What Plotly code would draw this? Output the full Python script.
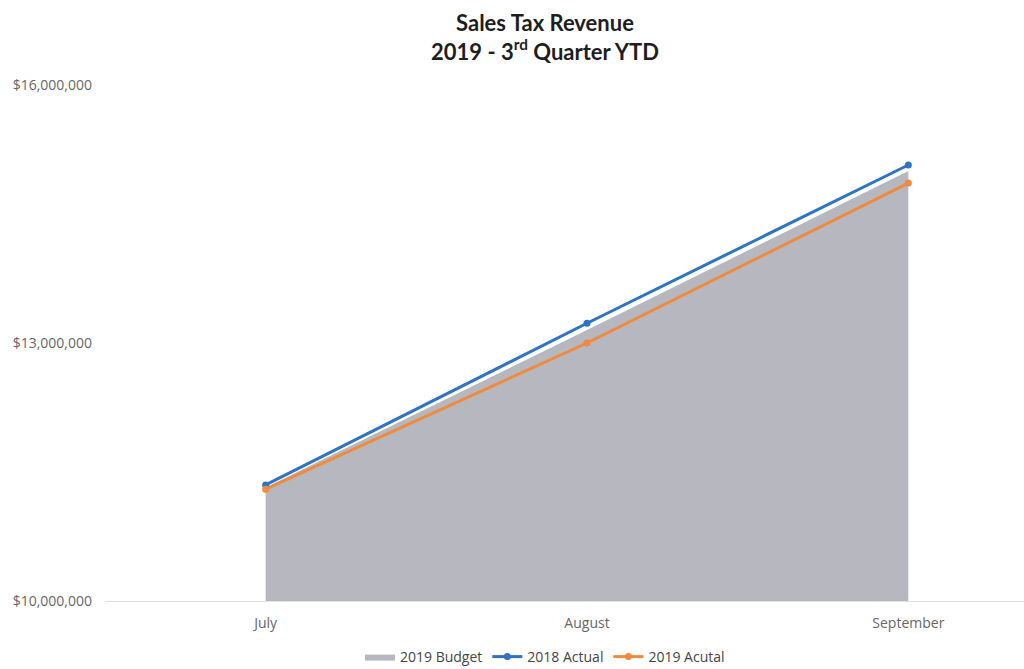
import plotly.graph_objects as go

# Year-to-date sales tax revenue by month
months = ["July", "August", "September"]
budget_2019 = [11_320_000, 13_150_000, 15_000_000]
actual_2018 = [11_350_000, 13_230_000, 15_070_000]
actual_2019 = [11_300_000, 13_000_000, 14_860_000]

y_ticks = [10_000_000, 13_000_000, 16_000_000]
y_tick_labels = ["$10,000,000", "$13,000,000", "$16,000,000"]

x_pos = list(range(len(months)))

fig = go.Figure()

fig.add_trace(go.Scatter(
    x=x_pos, y=budget_2019, name="2019 Budget", mode="lines",
    line=dict(width=0, color="#b6b7bf"), fill="tozeroy",
    fillcolor="#b6b7bf",
))
fig.add_trace(go.Scatter(
    x=x_pos, y=actual_2018, name="2018 Actual", mode="lines+markers",
    line=dict(width=3, color="#2e74c4"), marker=dict(size=7, color="#2e74c4"),
))
fig.add_trace(go.Scatter(
    x=x_pos, y=actual_2019, name="2019 Acutal", mode="lines+markers",
    line=dict(width=3, color="#f08a3e"), marker=dict(size=7, color="#f08a3e"),
))

fig.update_layout(
    width=1024, height=669,
    margin=dict(l=105, r=0, t=85, b=68),
    paper_bgcolor="white", plot_bgcolor="white",
    font=dict(family="Open Sans, sans-serif", color="#666666", size=14),
    title=dict(
        text="<b>Sales Tax Revenue<br>2019 - 3<sup>rd</sup> Quarter YTD</b>",
        x=545 / 1024, xanchor="center", xref="container",
        y=1 - 31 / 669, yanchor="middle", yref="container",
        font=dict(size=22, color="#1e1e1e", family="Lato, Open Sans, sans-serif"),
    ),
    showlegend=True,
    legend=dict(
        orientation="h", xref="container", yref="container",
        x=545 / 1024, xanchor="center", y=12 / 669, yanchor="middle",
        font=dict(size=14, color="#444444"), traceorder="normal",
    ),
    xaxis=dict(
        range=[-0.5, 2.36], tickvals=x_pos, ticktext=months,
        showgrid=False, zeroline=False, showline=True,
        linecolor="#e2e2e2", linewidth=1, ticks="", ticklabelstandoff=9,
        fixedrange=True,
    ),
    yaxis=dict(
        range=[10_000_000, 16_000_000], tickvals=y_ticks, ticktext=y_tick_labels,
        showgrid=False, zeroline=False, showline=False, ticks="",
        ticklabelstandoff=12,
    ),
)

fig.write_html("out.html")
